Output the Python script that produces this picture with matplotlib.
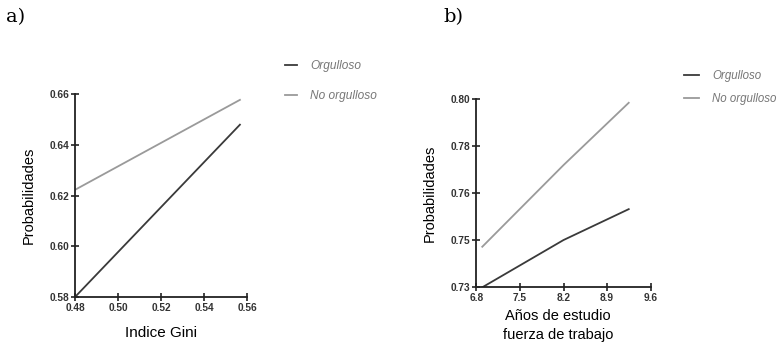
import numpy as np
import matplotlib.pyplot as plt

plt.rcParams['font.family'] = ['Liberation Sans', 'DejaVu Sans']

# panel a: Indice Gini
gini_x = [0.48, 0.5567]
gini_orgulloso = [0.580, 0.648]
gini_no_orgulloso = [0.6223, 0.6578]
gini_xticks = [0.48, 0.50, 0.52, 0.54, 0.56]
gini_yticks = [0.58, 0.60, 0.62, 0.64, 0.66]

# panel b: Años de estudio fuerza de trabajo
anos_x = [6.896, 8.2, 9.247]
anos_orgulloso = [0.730, 0.7476, 0.7591]
anos_no_orgulloso = [0.7451, 0.7755, 0.7987]
anos_xticks = [6.8, 7.5, 8.2, 8.9, 9.6]
anos_ytick_labels = ['0.73', '0.75', '0.76', '0.78', '0.80']

dark = '#3a3a3a'
light = '#9a9a9a'

fig = plt.figure(figsize=(7.78, 3.45), dpi=100)


def style_axes(ax):
    for s in ['top', 'right']:
        ax.spines[s].set_visible(False)
    for s in ['left', 'bottom']:
        ax.spines[s].set_linewidth(1.3)
        ax.spines[s].set_color('#222222')
    ax.tick_params(direction='inout', length=6, width=1.2, labelsize=7.3,
                   colors='#222222', pad=1)
    for lab in ax.get_xticklabels() + ax.get_yticklabels():
        lab.set_fontweight('bold')
        lab.set_color('#333333')


# ---- a) ----
ax1 = fig.add_axes([0.0964, 0.1391, 0.2211, 0.5876])
ax1.plot(gini_x, gini_orgulloso, color=dark, lw=1.3, label='Orgulloso')
ax1.plot(gini_x, gini_no_orgulloso, color=light, lw=1.3, label='No orgulloso')
ax1.set_xlim(0.48, 0.56)
ax1.set_ylim(0.58, 0.66)
ax1.set_xticks(gini_xticks)
ax1.set_xticklabels(['%.2f' % v for v in gini_xticks])
ax1.set_yticks(gini_yticks)
ax1.set_yticklabels(['%.2f' % v for v in gini_yticks])
style_axes(ax1)
ax1.set_xlabel('Indice Gini', fontsize=11, labelpad=10)
ax1.set_ylabel('Probabilidades', fontsize=10.5, labelpad=10)
ax1.legend(loc='upper left', bbox_to_anchor=(274 / 778, 1 - 49 / 345),
           bbox_transform=fig.transFigure, frameon=False, handlelength=1.0,
           handletextpad=1.15, labelspacing=1.55, prop={'size': 8.6, 'style': 'italic'},
           labelcolor='#777777')

# ---- b) ----
ax2 = fig.add_axes([0.6122, 0.1672, 0.2242, 0.545])
ax2.plot(anos_x, anos_orgulloso, color=dark, lw=1.3, label='Orgulloso')
ax2.plot(anos_x, anos_no_orgulloso, color=light, lw=1.3, label='No orgulloso')
ax2.set_xlim(6.8, 9.6)
ax2.set_ylim(0.73, 0.80)
ax2.set_xticks(anos_xticks)
ax2.set_xticklabels(['%.1f' % v for v in anos_xticks])
ax2.set_yticks(np.linspace(0.73, 0.80, len(anos_ytick_labels)))
ax2.set_yticklabels(anos_ytick_labels)
style_axes(ax2)
ax2.set_xlabel('Años de estudio\nfuerza de trabajo', fontsize=10.5,
               linespacing=1.45)
ax2.xaxis.set_label_coords(0.468, -0.115, transform=ax2.transAxes)
ax2.xaxis.label.set_va('top')
ax2.set_ylabel('Probabilidades', fontsize=10.5, labelpad=10)
ax2.legend(loc='upper left', bbox_to_anchor=(674 / 778, 1 - 60 / 345),
           bbox_transform=fig.transFigure, frameon=False, handlelength=1.3,
           handletextpad=1.1, labelspacing=0.95, prop={'size': 8.3, 'style': 'italic'},
           labelcolor='#777777')

fig.text(6 / 778, 1 - 17 / 345, 'a)', fontsize=14, family='DejaVu Serif',
         va='center', ha='left')
fig.text(443 / 778, 1 - 17 / 345, 'b)', fontsize=14, family='DejaVu Serif',
         va='center', ha='left')

fig.savefig('out.png', dpi=100)
